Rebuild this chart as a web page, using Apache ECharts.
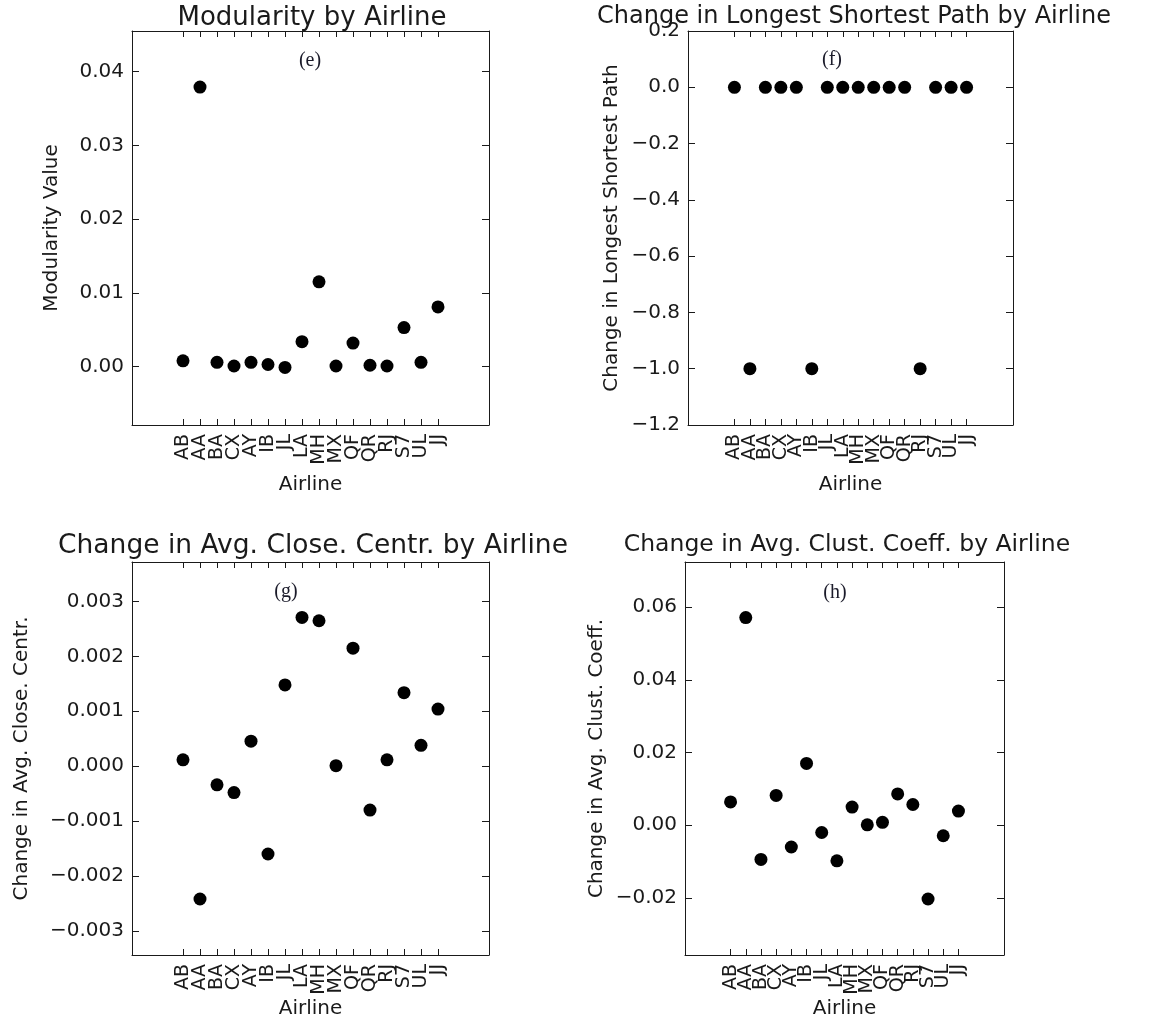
<!DOCTYPE html>
<html>
<head>
<meta charset="utf-8">
<title>Airline network metrics</title>
<script src="https://cdn.jsdelivr.net/npm/echarts@6/dist/echarts.min.js"></script>
<style>
html, body { margin: 0; padding: 0; background: #fff; }
#chart { width: 1162px; height: 1028px; }
</style>
</head>
<body>
<div id="chart"></div>
<script>
// categories
const airlines = ['AB', 'AA', 'BA', 'CX', 'AY', 'IB', 'JL', 'LA', 'MH', 'MX', 'QF', 'QR', 'RJ', 'S7', 'UL', 'JJ'];
const xTicks = airlines.map((a, i) => i);
// labels are packed tighter than their font height, so split them over two axes
const evenTicks = xTicks.filter(i => i % 2 === 0);
const oddTicks = xTicks.filter(i => i % 2 === 1);

// series values
const modularity = [0.0008, 0.0379, 0.0006, 0.0001, 0.0006, 0.0003, -0.0001, 0.0034, 0.0115, 0.0001, 0.0032, 0.0002, 0.0001, 0.0053, 0.0006, 0.0081];
const longestPath = [0, -1, 0, 0, 0, -1, 0, 0, 0, 0, 0, 0, -1, 0, 0, 0];
const closeCentr = [0.000115, -0.00242, -0.00034, -0.00048, 0.000455, -0.0016, 0.00148, 0.00271, 0.00265, 0.00001, 0.00215, -0.0008, 0.000115, 0.00134, 0.00038, 0.00104];
const clustCoeff = [0.0064, 0.0571, -0.0094, 0.0082, -0.006, 0.017, -0.002, -0.0098, 0.005, 0.0001, 0.0008, 0.0086, 0.0057, -0.0203, -0.0029, 0.0039];

// tick labels
const modTicks = [0, 0.01, 0.02, 0.03, 0.04];
const pathTicks = [0.2, 0, -0.2, -0.4, -0.6, -0.8, -1.0, -1.2];
const centrTicks = [-0.003, -0.002, -0.001, 0, 0.001, 0.002, 0.003];
const clustTicks = [-0.02, 0, 0.02, 0.04, 0.06];

const FONT = 'DejaVu Sans';
const INK = '#1a1a1a';

const titles = [], grids = [], xAxes = [], yAxes = [], series = [], graphics = [];

function addPanel(p) {
  const g = grids.length;
  grids.push({ left: p.box[0], top: p.box[1], width: p.box[2], height: p.box[3] });
  titles.push({
    text: p.title,
    left: p.titleX,
    top: p.titleTop,
    textAlign: 'center',
    textStyle: { fontFamily: FONT, fontSize: p.titleSize, fontWeight: 'normal', color: INK }
  });
  const line = { onZero: false, lineStyle: { color: INK, width: 1 } };
  const xLabel = ticks => ({
    customValues: ticks, rotate: 90, margin: 9,
    showMinLabel: true, showMaxLabel: true, hideOverlap: false,
    formatter: v => airlines[Math.round(v)],
    fontFamily: FONT, fontSize: 19, color: INK
  });
  // bottom axis: line, ticks, even labels, name
  xAxes.push({
    gridIndex: g, type: 'value', min: -3, max: 18, position: 'bottom',
    axisLine: line,
    axisTick: { inside: true, length: 6, customValues: xTicks, lineStyle: { color: INK } },
    axisLabel: xLabel(evenTicks),
    splitLine: { show: false },
    name: 'Airline', nameLocation: 'middle', nameGap: p.xNameGap,
    nameTextStyle: { fontFamily: FONT, fontSize: 20, color: INK }
  });
  // bottom axis: odd labels only
  xAxes.push({
    gridIndex: g, type: 'value', min: -3, max: 18, position: 'bottom', offset: 0,
    axisLine: { show: false, onZero: false },
    axisTick: { show: false },
    axisLabel: xLabel(oddTicks),
    splitLine: { show: false }
  });
  // top frame
  xAxes.push({
    gridIndex: g, type: 'value', min: -3, max: 18, position: 'top',
    axisLine: line,
    axisTick: { inside: true, length: 6, customValues: xTicks, lineStyle: { color: INK } },
    axisLabel: { show: false },
    splitLine: { show: false }
  });
  yAxes.push({
    gridIndex: g, type: 'value', min: p.yMin, max: p.yMax, position: 'left',
    axisLine: line,
    axisTick: { inside: true, length: 7, customValues: p.ticks, lineStyle: { color: INK } },
    axisLabel: {
      customValues: p.ticks, margin: 8,
      showMinLabel: true, showMaxLabel: true, hideOverlap: false,
      formatter: v => v.toFixed(p.digits).replace('-', '\u2212'),
      fontFamily: FONT, fontSize: 20, color: INK
    },
    splitLine: { show: false },
    name: p.yName, nameLocation: 'middle', nameGap: p.yNameGap,
    nameTextStyle: { fontFamily: FONT, fontSize: 20, color: INK }
  });
  yAxes.push({
    gridIndex: g, type: 'value', min: p.yMin, max: p.yMax, position: 'right',
    axisLine: line,
    axisTick: { inside: true, length: 7, customValues: p.ticks, lineStyle: { color: INK } },
    axisLabel: { show: false },
    splitLine: { show: false }
  });
  series.push({
    type: 'scatter', xAxisIndex: 3 * g, yAxisIndex: 2 * g,
    symbolSize: 13, itemStyle: { color: '#000', opacity: 1 },
    data: p.values.map((v, i) => [i, v])
  });
  graphics.push({
    type: 'text', x: p.tag[1], y: p.tag[2],
    style: { text: p.tag[0], align: 'center', verticalAlign: 'middle', fontFamily: 'Liberation Serif', fontSize: 20, fill: '#1b1b2a' }
  });
}

addPanel({
  box: [132, 31, 357, 394], title: 'Modularity by Airline', titleX: 307, titleTop: 0, titleSize: 26,
  yMin: -0.0079, yMax: 0.0455, ticks: modTicks, digits: 2, values: modularity,
  yName: 'Modularity Value', yNameGap: 70, xNameGap: 50, tag: ['(e)', 310, 61]
});
addPanel({
  box: [688, 31, 325, 394], title: 'Change in Longest Shortest Path by Airline', titleX: 849, titleTop: 0, titleSize: 24,
  yMin: -1.2, yMax: 0.2, ticks: pathTicks, digits: 1, values: longestPath,
  yName: 'Change in Longest Shortest Path', yNameGap: 66, xNameGap: 50, tag: ['(f)', 832, 60]
});
addPanel({
  box: [132, 562, 357, 393], title: 'Change in Avg. Close. Centr. by Airline', titleX: 308, titleTop: 528, titleSize: 26.5,
  yMin: -0.00344, yMax: 0.00372, ticks: centrTicks, digits: 3, values: closeCentr,
  yName: 'Change in Avg. Close. Centr.', yNameGap: 100, xNameGap: 38, tag: ['(g)', 286, 592]
});
addPanel({
  box: [685, 562, 319, 393], title: 'Change in Avg. Clust. Coeff. by Airline', titleX: 842, titleTop: 528, titleSize: 23.5,
  yMin: -0.0357, yMax: 0.0724, ticks: clustTicks, digits: 2, values: clustCoeff,
  yName: 'Change in Avg. Clust. Coeff.', yNameGap: 78, xNameGap: 38, tag: ['(h)', 835, 593]
});

const myChart = echarts.init(document.getElementById('chart'));
myChart.setOption({
  backgroundColor: '#fff',
  animation: false,
  title: titles,
  grid: grids,
  xAxis: xAxes,
  yAxis: yAxes,
  series: series,
  graphic: graphics
});
</script>
</body>
</html>
